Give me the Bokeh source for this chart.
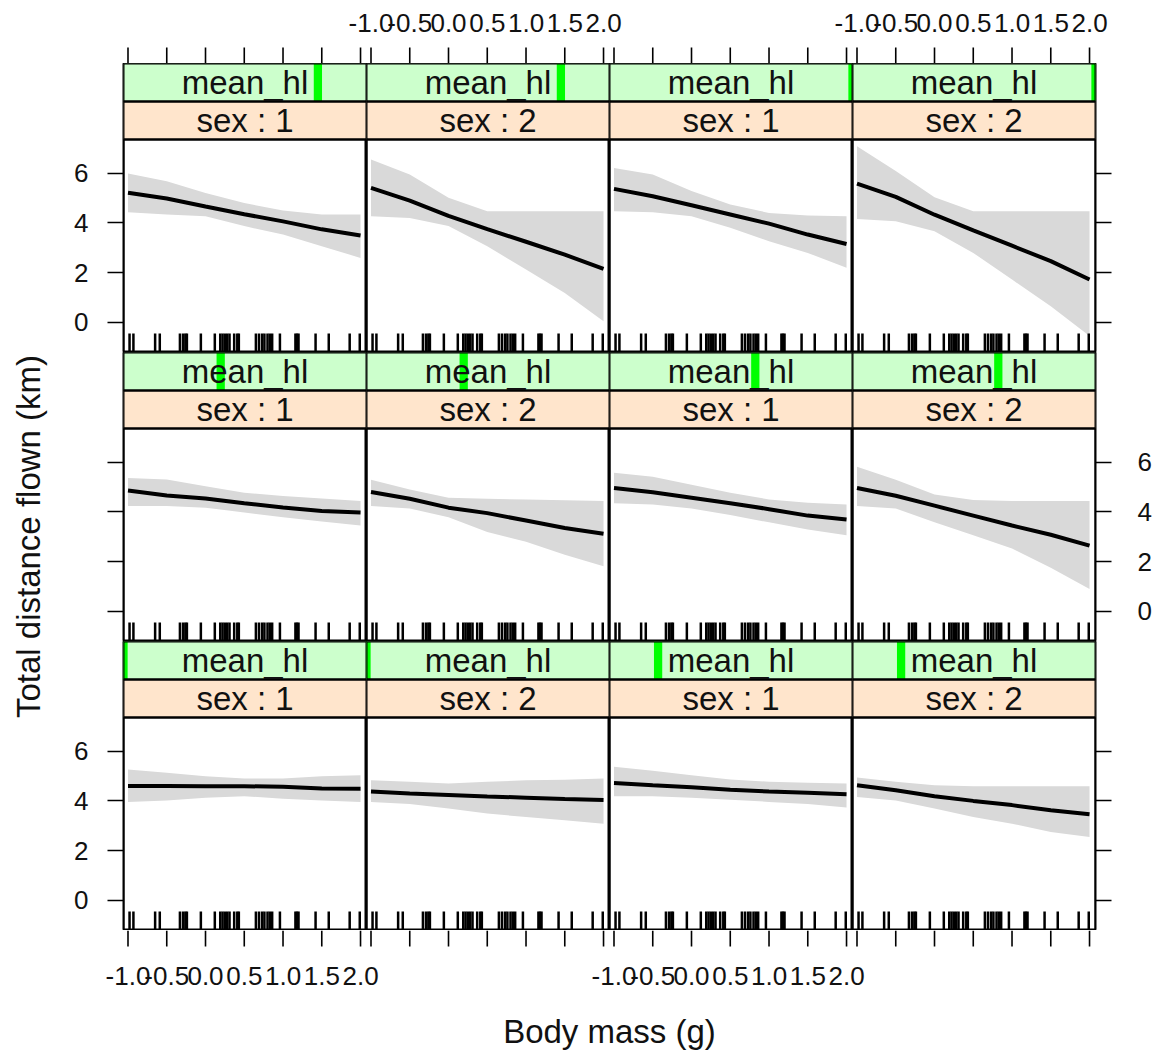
import math
from bokeh.plotting import figure
from bokeh.layouts import row, column
from bokeh.models import Range1d, FixedTicker, LinearAxis
from bokeh.embed import file_html
from bokeh.resources import INLINE
from bokeh.core.properties import value

# ---------------- data ----------------
body_mass = [-1.0, -0.5, 0.0, 0.5, 1.0, 1.5, 2.0]

x_ticks = [-1.0, -0.5, 0.0, 0.5, 1.0, 1.5, 2.0]
x_tick_labels = ["-1.0", "-0.5", "0.0", "0.5", "1.0", "1.5", "2.0"]
y_ticks = [0, 2, 4, 6]
y_tick_labels = ["0", "2", "4", "6"]

sex_levels = ["1", "2"]
# position of the mean_hl level indicator inside the strip (fraction of range)
mean_hl_levels = [0.0, 0.2, 0.4, 0.6, 0.8, 1.0]

# rug of observed body mass values
rug_x = [-0.98, -0.93, -0.65, -0.59, -0.33, -0.29, -0.26, -0.24, -0.06, 0.12,
         0.19, 0.22, 0.25, 0.28, 0.31, 0.37, 0.41, 0.43, 0.65, 0.69, 0.73, 0.76,
         0.80, 0.83, 0.86, 0.96, 1.16, 1.18, 1.20, 1.42, 1.59, 1.86, 1.99]

# fitted values and confidence bands, per (mean_hl level, sex)
fit_l1_s1 = [4.60, 4.60, 4.59, 4.59, 4.57, 4.50, 4.49]
upr_l1_s1 = [5.26, 5.13, 4.99, 4.90, 4.90, 4.99, 5.03]
lwr_l1_s1 = [3.96, 4.02, 4.13, 4.19, 4.09, 4.02, 3.96]

fit_l1_s2 = [4.38, 4.30, 4.24, 4.18, 4.13, 4.08, 4.04]
upr_l1_s2 = [4.83, 4.77, 4.70, 4.77, 4.83, 4.85, 4.90]
lwr_l1_s2 = [3.96, 3.87, 3.69, 3.49, 3.35, 3.22, 3.08]

fit_l2_s1 = [4.72, 4.63, 4.55, 4.45, 4.38, 4.33, 4.27]
upr_l2_s1 = [5.37, 5.21, 5.03, 4.86, 4.77, 4.73, 4.70]
lwr_l2_s1 = [4.19, 4.19, 4.13, 4.05, 3.96, 3.87, 3.73]

fit_l2_s2 = [4.63, 4.43, 4.19, 4.00, 3.83, 3.62, 3.46]
upr_l2_s2 = [4.94, 4.77, 4.63, 4.59, 4.59, 4.59, 4.59]
lwr_l2_s2 = [4.16, 4.02, 3.69, 3.35, 3.08, 2.75, 2.55]

fit_l3_s1 = [4.86, 4.66, 4.54, 4.35, 4.18, 4.04, 3.98]
upr_l3_s1 = [5.36, 5.30, 5.03, 4.77, 4.64, 4.54, 4.44]
lwr_l3_s1 = [4.24, 4.24, 4.17, 3.98, 3.78, 3.61, 3.45]

fit_l3_s2 = [4.80, 4.53, 4.17, 3.95, 3.65, 3.35, 3.12]
upr_l3_s2 = [5.29, 4.90, 4.57, 4.53, 4.50, 4.47, 4.44]
lwr_l3_s2 = [4.24, 4.14, 3.78, 3.19, 2.80, 2.27, 1.81]

fit_l4_s1 = [4.96, 4.79, 4.57, 4.35, 4.11, 3.85, 3.69]
upr_l4_s1 = [5.58, 5.42, 5.09, 4.77, 4.50, 4.37, 4.30]
lwr_l4_s1 = [4.35, 4.30, 4.14, 3.87, 3.58, 3.29, 3.06]

fit_l4_s2 = [4.96, 4.65, 4.25, 3.85, 3.45, 3.08, 2.64]
upr_l4_s2 = [5.82, 5.29, 4.70, 4.48, 4.44, 4.44, 4.44]
lwr_l4_s2 = [4.24, 4.14, 3.58, 3.06, 2.53, 1.75, 0.89]

fit_l5_s1 = [5.21, 4.98, 4.66, 4.35, 4.06, 3.74, 3.49]
upr_l5_s1 = [5.99, 5.68, 5.20, 4.80, 4.50, 4.34, 4.34]
lwr_l5_s1 = [4.43, 4.34, 4.27, 3.87, 3.53, 3.06, 2.59]

fit_l5_s2 = [5.41, 4.90, 4.28, 3.75, 3.24, 2.72, 2.15]
upr_l5_s2 = [6.55, 5.95, 5.01, 4.47, 4.47, 4.47, 4.47]
lwr_l5_s2 = [4.27, 4.20, 3.87, 3.06, 2.12, 1.18, 0.04]

fit_l6_s1 = [5.37, 5.07, 4.71, 4.34, 3.97, 3.53, 3.15]
upr_l6_s1 = [6.21, 5.95, 5.28, 4.74, 4.40, 4.30, 4.27]
lwr_l6_s1 = [4.47, 4.43, 4.27, 3.80, 3.26, 2.79, 2.19]

fit_l6_s2 = [5.58, 5.05, 4.33, 3.70, 3.08, 2.46, 1.72]
upr_l6_s2 = [7.09, 6.09, 5.03, 4.47, 4.47, 4.47, 4.47]
lwr_l6_s2 = [4.16, 4.07, 3.66, 2.79, 1.72, 0.64, -0.56]

panels = {
    (1, 1): (fit_l1_s1, lwr_l1_s1, upr_l1_s1), (1, 2): (fit_l1_s2, lwr_l1_s2, upr_l1_s2),
    (2, 1): (fit_l2_s1, lwr_l2_s1, upr_l2_s1), (2, 2): (fit_l2_s2, lwr_l2_s2, upr_l2_s2),
    (3, 1): (fit_l3_s1, lwr_l3_s1, upr_l3_s1), (3, 2): (fit_l3_s2, lwr_l3_s2, upr_l3_s2),
    (4, 1): (fit_l4_s1, lwr_l4_s1, upr_l4_s1), (4, 2): (fit_l4_s2, lwr_l4_s2, upr_l4_s2),
    (5, 1): (fit_l5_s1, lwr_l5_s1, upr_l5_s1), (5, 2): (fit_l5_s2, lwr_l5_s2, upr_l5_s2),
    (6, 1): (fit_l6_s1, lwr_l6_s1, upr_l6_s1), (6, 2): (fit_l6_s2, lwr_l6_s2, upr_l6_s2),
}

# ---------------- layout constants ----------------
FONT = "Liberation Sans"
FW = 243            # frame width of a panel column
PANEL_H = 213       # data panel height
STRIP_H = 38        # each strip height
FH = PANEL_H + 2 * STRIP_H
PX_PER_UNIT = 24.83
Y0 = -1.22
X0, X1 = -1.058, 2.077
TICK = 16
LEFT_B, RIGHT_B = 65, 58
YLAB_W = 58
TL_H = 47           # top tick-label band
BL_H = 54           # bottom tick-label band
XLAB_H = 52
TICK_FS = "26px"
STRIP_FS = "33px"
TITLE_FS = "33px"
TXT = "#111111"

# grid: rows top->bottom contain mean_hl levels (5,6), (3,4), (1,2)
row_levels = [(5, 6), (3, 4), (1, 2)]


def no_grid(p):
    for g in p.xgrid + p.ygrid:
        g.grid_line_color = None


def bare_fig(w, h, xr, yr):
    f = figure(frame_width=w, frame_height=h, x_range=xr, y_range=yr,
               output_backend="svg", toolbar_location=None,
               x_axis_location=None, y_axis_location=None, min_border=0)
    no_grid(f)
    f.outline_line_color = None
    return f


def style(ax, show, standoff):
    ax.major_tick_in = 0
    ax.major_tick_out = TICK
    ax.minor_tick_out = 0
    ax.minor_tick_in = 0
    ax.axis_line_color = None
    ax.major_tick_line_width = 1.6
    ax.major_tick_line_color = "black"
    ax.major_label_text_font = FONT
    ax.major_label_text_font_size = TICK_FS
    ax.major_label_standoff = standoff
    ax.major_label_text_color = TXT if show else None


def make_panel(r, c):
    lev = row_levels[r][c // 2]
    sex = c % 2 + 1
    fit, lwr, upr = panels[(lev, sex)]
    p = figure(frame_width=FW, frame_height=FH,
               x_range=Range1d(X0, X1),
               y_range=Range1d(Y0, Y0 + FH / PX_PER_UNIT),
               output_backend="svg", toolbar_location=None,
               x_axis_location=None, y_axis_location=None,
               min_border=0)
    no_grid(p)
    p.min_border_left = LEFT_B if c == 0 else 0
    p.min_border_right = RIGHT_B if c == 3 else 0
    p.extra_x_ranges = {"u": Range1d(0, 1)}
    p.extra_y_ranges = {"px": Range1d(0, FH)}
    p.outline_line_color = "black"
    p.outline_line_width = 2
    p.background_fill_color = "white"
    p.border_fill_color = "white"

    # data
    p.varea(x=body_mass, y1=lwr, y2=upr, fill_color="#d9d9d9")
    p.line(body_mass, fit, line_color="black", line_width=4)
    p.segment(x0=rug_x, x1=rug_x, y0=0, y1=19, y_range_name="px",
              line_color="black", line_width=2.5)

    # strips
    p.quad(left=0, right=1, bottom=PANEL_H, top=PANEL_H + STRIP_H,
           x_range_name="u", y_range_name="px", fill_color="#ffe5cc", line_color=None)
    p.quad(left=0, right=1, bottom=PANEL_H + STRIP_H, top=FH,
           x_range_name="u", y_range_name="px", fill_color="#ccffcc", line_color=None)
    f = mean_hl_levels[lev - 1]
    p.quad(left=f - 0.017, right=f + 0.017, bottom=PANEL_H + STRIP_H, top=FH,
           x_range_name="u", y_range_name="px", fill_color="#00ff00", line_color=None)
    for b, t in [(0, PANEL_H), (PANEL_H, PANEL_H + STRIP_H), (PANEL_H + STRIP_H, FH)]:
        p.quad(left=0, right=1, bottom=b, top=t, x_range_name="u", y_range_name="px",
               fill_color=None, line_color="black", line_width=2)
    p.text(x=[0.5], y=[PANEL_H + STRIP_H * 1.5], text=["mean_hl"],
           x_range_name="u", y_range_name="px", text_align="center",
           text_baseline="middle", text_font=value(FONT), text_font_size=STRIP_FS,
           text_color=TXT)
    p.text(x=[0.5], y=[PANEL_H + STRIP_H * 0.5], text=["sex : " + sex_levels[sex - 1]],
           x_range_name="u", y_range_name="px", text_align="center",
           text_baseline="middle", text_font=value(FONT), text_font_size=STRIP_FS,
           text_color=TXT)

    yover = {t: l for t, l in zip(y_ticks, y_tick_labels)}
    if c == 0:
        ax = LinearAxis(ticker=FixedTicker(ticks=y_ticks), major_label_overrides=yover)
        style(ax, r != 1, 19)
        p.add_layout(ax, "left")
    if c == 3:
        ax = LinearAxis(ticker=FixedTicker(ticks=y_ticks), major_label_overrides=yover)
        style(ax, r == 1, 26)
        p.add_layout(ax, "right")
    return p


# tick bands spanning all columns; each column gets its own x range so
# ticks and labels sit on the tick values through Bokeh's scales
LAB_W = LEFT_B + 4 * FW + RIGHT_B
SPAN = X1 - X0


def col_ranges():
    out = {}
    for k in range(4):
        start = X0 - (LEFT_B + k * FW) / FW * SPAN
        out["c%d" % k] = Range1d(start, start + LAB_W / FW * SPAN)
    return out


def tick_band(height, label_cols, ymid, top):
    f = bare_fig(LAB_W, height, Range1d(0, 1), Range1d(0, height))
    f.extra_x_ranges = col_ranges()
    y0, y1 = (0, TICK) if top else (height - TICK, height)
    for k in range(4):
        f.segment(x0=x_ticks, x1=x_ticks, y0=y0, y1=y1, x_range_name="c%d" % k,
                  line_color="black", line_width=1.6)
    for k in label_cols:
        f.text(x=x_ticks, y=[ymid] * len(x_ticks), text=x_tick_labels,
               x_range_name="c%d" % k, text_align="center", text_baseline="middle",
               text_font=value(FONT), text_font_size=TICK_FS, text_color=TXT)
    return f


TOP_H = TL_H + TICK
BOT_H = TICK + BL_H
toplab = tick_band(TOP_H, [1, 3], TOP_H - 22, True)
botlab = tick_band(BOT_H, [0, 2], BOT_H - 45, False)

grid_rows = [row(*[make_panel(r, c) for c in range(4)]) for r in range(3)]

TOTAL_H = TOP_H + 3 * FH + BOT_H
TOTAL_W = YLAB_W + LAB_W

ylab = bare_fig(YLAB_W, TOTAL_H, Range1d(0, YLAB_W), Range1d(0, TOTAL_H))
ylab.text(x=[28], y=[TOTAL_H - 536], text=["Total distance flown (km)"], angle=math.pi / 2,
          text_align="center", text_baseline="middle", text_font=value(FONT),
          text_font_size=TITLE_FS, text_color=TXT)

xlab = bare_fig(TOTAL_W, XLAB_H, Range1d(0, TOTAL_W), Range1d(0, XLAB_H))
xlab.text(x=[YLAB_W + LEFT_B + 2 * FW], y=[XLAB_H - (1031 - TOTAL_H)], text=["Body mass (g)"],
          text_align="center", text_baseline="middle", text_font=value(FONT),
          text_font_size=TITLE_FS, text_color=TXT)

layout = column(row(ylab, column(toplab, *grid_rows, botlab)), xlab)
open("out.html", "w").write(file_html(layout, INLINE))
